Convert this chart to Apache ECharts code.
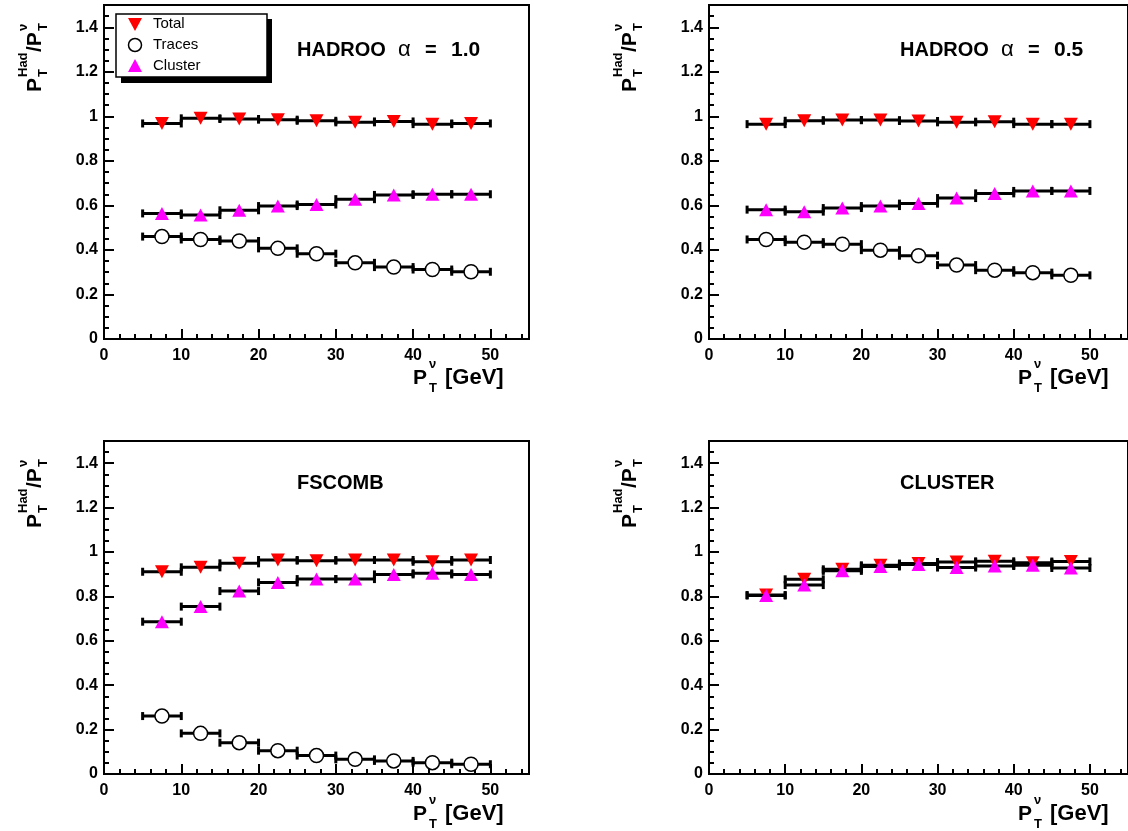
<!DOCTYPE html>
<html><head><meta charset="utf-8">
<script src="https://cdn.jsdelivr.net/npm/echarts@6/dist/echarts.min.js"></script>
<style>html,body{margin:0;padding:0;background:#fff}#c{width:1128px;height:831px}</style>
</head><body><div id="c"></div>
<script>
// ---- data ----
const binLow  = [5, 10, 15, 20, 25, 30, 35, 40, 45];
const binHigh = [10, 15, 20, 25, 30, 35, 40, 45, 50];
const binCenter = [7.5, 12.5, 17.5, 22.5, 27.5, 32.5, 37.5, 42.5, 47.5];

const hadroo10Total   = [0.968, 0.991, 0.988, 0.985, 0.980, 0.973, 0.977, 0.965, 0.968];
const hadroo10Traces  = [0.460, 0.447, 0.440, 0.407, 0.383, 0.342, 0.323, 0.312, 0.302];
const hadroo10Cluster = [0.564, 0.557, 0.578, 0.597, 0.604, 0.628, 0.647, 0.650, 0.650];

const hadroo05Total   = [0.965, 0.980, 0.983, 0.983, 0.979, 0.973, 0.976, 0.965, 0.965];
const hadroo05Traces  = [0.447, 0.435, 0.426, 0.399, 0.374, 0.332, 0.309, 0.298, 0.286];
const hadroo05Cluster = [0.581, 0.572, 0.588, 0.597, 0.608, 0.633, 0.654, 0.665, 0.665];

const fscombTotal   = [0.911, 0.931, 0.949, 0.964, 0.961, 0.964, 0.964, 0.956, 0.964];
const fscombTraces  = [0.261, 0.183, 0.141, 0.105, 0.083, 0.066, 0.059, 0.051, 0.044];
const fscombCluster = [0.686, 0.754, 0.824, 0.863, 0.878, 0.878, 0.899, 0.904, 0.899];

const clusterTotal   = [0.806, 0.877, 0.922, 0.940, 0.948, 0.955, 0.958, 0.952, 0.957];
const clusterCluster = [0.804, 0.851, 0.915, 0.935, 0.944, 0.930, 0.937, 0.940, 0.928];

const legendNames = ['Total', 'Traces', 'Cluster'];
const panelNames = ['HADROO', 'HADROO', 'FSCOMB', 'CLUSTER'];
const panelAlpha = ['1.0', '0.5', null, null];
const xTickLabels = ['0', '10', '20', '30', '40', '50'];

// ---- layout ----
const FONT = 'Liberation Sans, Arial, Helvetica, sans-serif';
const grids = [
  {left: 104, top: 5, width: 425, height: 334},
  {left: 709, top: 5, width: 425, height: 334},
  {left: 104, top: 441, width: 425, height: 333},
  {left: 709, top: 441, width: 425, height: 333}
];
const panels = [
  {total: hadroo10Total, traces: hadroo10Traces, cluster: hadroo10Cluster},
  {total: hadroo05Total, traces: hadroo05Traces, cluster: hadroo05Cluster},
  {total: fscombTotal, traces: fscombTraces, cluster: fscombCluster},
  {total: clusterTotal, traces: null, cluster: clusterCluster}
];

const xAxes = [], yAxes = [], series = [];
grids.forEach((g, gi) => {
  xAxes.push({
    type: 'value', gridIndex: gi, min: 0, max: 55, interval: 10, position: 'bottom',
    axisLine: {show: true, onZero: false, lineStyle: {color: '#000', width: 2}},
    axisTick: {show: true, inside: true, length: 10, lineStyle: {color: '#000', width: 2}},
    axisLabel: {show: true, margin: 9, color: '#000', fontSize: 16, fontWeight: 'bold', fontFamily: FONT,
      showMaxLabel: false,
      formatter: v => { const i = Math.round(v / 10); return (Math.abs(v - i * 10) < 1e-6 && i < xTickLabels.length) ? xTickLabels[i] : ''; }},
    splitLine: {show: false}
  });
  xAxes.push({
    type: 'value', gridIndex: gi, min: 0, max: 55, interval: 2, position: 'bottom',
    axisLine: {show: false, onZero: false},
    axisTick: {show: true, inside: true, length: 5, lineStyle: {color: '#000', width: 2}},
    axisLabel: {show: false}, splitLine: {show: false}
  });
  yAxes.push({
    type: 'value', gridIndex: gi, min: 0, max: 1.5, interval: 0.2, position: 'left',
    axisLine: {show: true, onZero: false, lineStyle: {color: '#000', width: 2}},
    axisTick: {show: true, inside: true, length: 10, lineStyle: {color: '#000', width: 2}},
    axisLabel: {show: true, margin: 6, color: '#000', fontSize: 16, fontWeight: 'bold', fontFamily: FONT,
      showMaxLabel: false,
      formatter: v => v > 1.45 ? '' : String(Math.round(v * 10) / 10)},
    splitLine: {show: false}
  });
  yAxes.push({
    type: 'value', gridIndex: gi, min: 0, max: 1.5, interval: 0.05, position: 'left',
    axisLine: {show: false, onZero: false},
    axisTick: {show: true, inside: true, length: 5, lineStyle: {color: '#000', width: 2}},
    axisLabel: {show: false}, splitLine: {show: false}
  });
});

function errRender(params, api) {
  const lo = api.coord([api.value(0), api.value(2)]);
  const hi = api.coord([api.value(1), api.value(2)]);
  const c = 4;
  const st = {stroke: '#000', lineWidth: 3};
  return {type: 'group', children: [
    {type: 'line', shape: {x1: lo[0], y1: lo[1], x2: hi[0], y2: hi[1]}, style: st},
    {type: 'line', shape: {x1: lo[0], y1: lo[1] - c, x2: lo[0], y2: lo[1] + c}, style: st},
    {type: 'line', shape: {x1: hi[0], y1: hi[1] - c, x2: hi[0], y2: hi[1] + c}, style: st}
  ]};
}

const styles = {
  total:   {symbol: 'triangle', symbolRotate: 180, symbolSize: [14, 13], itemStyle: {color: '#ff0000', opacity: 1}},
  traces:  {symbol: 'circle', symbolSize: 14, itemStyle: {color: '#ffffff', borderColor: '#000', borderWidth: 1.5, opacity: 1}},
  cluster: {symbol: 'triangle', symbolRotate: 0, symbolSize: [14, 13], itemStyle: {color: '#ff00ff', opacity: 1}}
};

panels.forEach((p, gi) => {
  ['total', 'traces', 'cluster'].forEach((k, ki) => {
    const vals = p[k];
    if (!vals) return;
    series.push({
      type: 'custom', xAxisIndex: 2 * gi, yAxisIndex: 2 * gi, z: 2 + ki * 2,
      renderItem: errRender, encode: {x: [0, 1], y: 2},
      data: vals.map((v, i) => [binLow[i], binHigh[i], v]), silent: true, animation: false
    });
    series.push(Object.assign({
      type: 'scatter', name: legendNames[ki], xAxisIndex: 2 * gi, yAxisIndex: 2 * gi, z: 3 + ki * 2,
      data: vals.map((v, i) => [binCenter[i], v]), animation: false, silent: true
    }, styles[k]));
  });
});

// ---- graphic texts ----
const graphic = [];
function yTitle(x, y) {
  const big = 'bold 21px ' + FONT, small = 'bold 13px ' + FONT;
  return {type: 'group', x: x, y: y, rotation: Math.PI / 2, children: [
    {type: 'text', x: 0, y: 4, style: {text: 'P', font: big, fill: '#000', verticalAlign: 'bottom'}},
    {type: 'text', x: 15, y: 8, style: {text: 'T', font: small, fill: '#000', verticalAlign: 'bottom'}},
    {type: 'text', x: 15, y: -12, style: {text: 'Had', font: small, fill: '#000', verticalAlign: 'bottom'}},
    {type: 'text', x: 40, y: 4, style: {text: '/P', font: big, fill: '#000', verticalAlign: 'bottom'}},
    {type: 'text', x: 61, y: 8, style: {text: 'T', font: small, fill: '#000', verticalAlign: 'bottom'}},
    {type: 'text', x: 61, y: -12, style: {text: 'ν', font: small, fill: '#000', verticalAlign: 'bottom'}}
  ]};
}
function xTitle(x, y) {
  const big = 'bold 21px ' + FONT, small = 'bold 13px ' + FONT;
  return {type: 'group', x: x, y: y, children: [
    {type: 'text', x: 0, y: 4, style: {text: 'P', font: big, fill: '#000', verticalAlign: 'bottom'}},
    {type: 'text', x: 16, y: 10, style: {text: 'T', font: small, fill: '#000', verticalAlign: 'bottom'}},
    {type: 'text', x: 16, y: -14, style: {text: 'ν', font: small, fill: '#000', verticalAlign: 'bottom'}},
    {type: 'text', x: 32, y: 4, style: {text: '[GeV]', font: 'bold 22px ' + FONT, fill: '#000', verticalAlign: 'bottom'}}
  ]};
}
graphic.push(yTitle(42, 92), yTitle(637, 92), yTitle(42, 528), yTitle(637, 528));
graphic.push(xTitle(413, 385), xTitle(1018, 385), xTitle(413, 821), xTitle(1018, 821));

const titlePos = [[297, 50], [900, 50], [297, 483], [900, 483]];
panelNames.forEach((n, i) => {
  const x0 = titlePos[i][0], y0 = titlePos[i][1];
  graphic.push({type: 'text', x: x0, y: y0, z: 10, style: {
    text: n, font: 'bold 20px ' + FONT, fill: '#000', verticalAlign: 'middle'}});
  if (panelAlpha[i]) {
    graphic.push({type: 'text', x: x0 + 101, y: y0, z: 10, style: {
      text: 'α', font: '22px ' + FONT, fill: '#000', verticalAlign: 'middle'}});
    graphic.push({type: 'text', x: x0 + 128, y: y0, z: 10, style: {
      text: '=', font: 'bold 20px ' + FONT, fill: '#000', verticalAlign: 'middle'}});
    graphic.push({type: 'text', x: x0 + 154, y: y0, z: 10, style: {
      text: panelAlpha[i], font: 'bold 21px ' + FONT, fill: '#000', verticalAlign: 'middle'}});
  }
});

// legend
graphic.push({type: 'rect', z: 20, shape: {x: 121, y: 19, width: 151, height: 64}, style: {fill: '#000'}});
graphic.push({type: 'rect', z: 21, shape: {x: 116, y: 14, width: 151, height: 63}, style: {fill: '#fff', stroke: '#000', lineWidth: 1.5}});
graphic.push({type: 'polygon', z: 22, shape: {points: [[128, 18], [142, 18], [135, 31]]}, style: {fill: '#ff0000'}});
graphic.push({type: 'circle', z: 22, shape: {cx: 135, cy: 45, r: 6.5}, style: {fill: '#fff', stroke: '#000', lineWidth: 1.5}});
graphic.push({type: 'polygon', z: 22, shape: {points: [[128, 72], [142, 72], [135, 59]]}, style: {fill: '#ff00ff'}});
legendNames.forEach((n, i) => {
  graphic.push({type: 'text', z: 22, x: 153, y: 24 + i * 21, style: {text: n, font: '15px ' + FONT, fill: '#000', verticalAlign: 'middle'}});
});

const chart = echarts.init(document.getElementById('c'), null, {renderer: 'canvas'});
chart.setOption({
  animation: false,
  backgroundColor: '#fff',
  grid: grids.map(g => Object.assign({show: true, borderColor: '#000', borderWidth: 2, backgroundColor: 'transparent'}, g)),
  xAxis: xAxes, yAxis: yAxes, series: series, graphic: graphic
});
</script></body></html>
